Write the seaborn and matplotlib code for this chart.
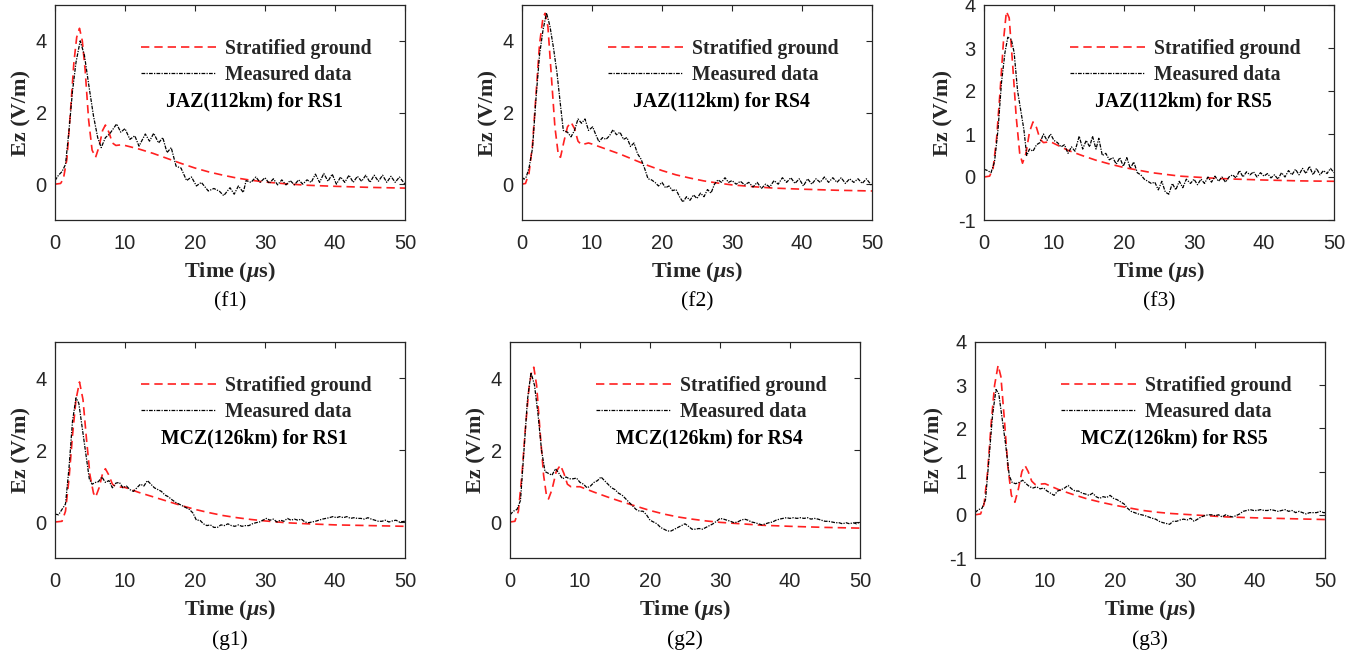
import numpy as np
import pandas as pd
import matplotlib
matplotlib.use("Agg")
import matplotlib.pyplot as plt
import seaborn as sns

# ---------------- data ----------------
# (f1) JAZ(112km) for RS1
T_F1_S = [0, 0.8, 1.2, 1.7, 2.2, 2.7, 3.1, 3.5, 3.9, 4.3, 4.8, 5.3, 5.8, 6.3, 6.8, 7.2, 7.7, 8.2, 8.7, 9.5, 10, 12, 14, 16, 18, 20, 22, 24, 26, 28, 30, 33, 36, 40, 45, 50]
Y_F1_S = [0, 0.02, 0.15, 0.7, 2.0, 3.4, 4.1, 4.35, 4.0, 3.2, 1.8, 0.95, 0.75, 1.05, 1.5, 1.65, 1.45, 1.15, 1.08, 1.1, 1.08, 0.98, 0.86, 0.72, 0.58, 0.45, 0.34, 0.25, 0.17, 0.11, 0.06, 0.01, -0.03, -0.06, -0.09, -0.11]
T_F1_M = [0, 0.5, 1.0, 1.5, 2.0, 2.5, 3.0, 3.6, 4.2, 4.8, 5.5, 6.1, 6.6, 7.2, 7.8, 8.8, 9.4, 10.0, 10.7, 11.4, 12.0, 12.9, 13.5, 14.1, 14.8, 15.4, 16.0, 16.6, 17.3, 18.0, 18.8, 19.5, 20.2, 20.9, 21.9, 22.7, 23.5, 24.1, 25.0, 25.6, 26.2, 26.9, 27.3, 28.0, 28.7, 29.3, 30.0, 30.6, 31.2, 31.8, 32.4, 33.0, 33.6, 34.2, 34.8, 35.4, 36.0, 36.6, 37.2, 37.8, 38.4, 39.0, 39.6, 40.2, 40.8, 41.4, 42.0, 42.6, 43.2, 43.8, 44.4, 45.0, 45.6, 46.2, 46.8, 47.4, 48.0, 48.6, 49.2, 50.0]
Y_F1_M = [0.1, 0.25, 0.35, 0.55, 1.5, 2.6, 3.4, 4.0, 3.6, 2.8, 1.9, 1.3, 1.02, 1.3, 1.4, 1.68, 1.45, 1.55, 1.25, 1.35, 1.06, 1.4, 1.2, 1.42, 1.15, 1.3, 0.88, 1.02, 0.5, 0.45, 0.1, 0.2, -0.05, 0.05, -0.19, -0.12, -0.2, -0.32, -0.1, -0.28, -0.05, -0.23, 0.1, 0.05, 0.2, 0.05, 0.18, 0.02, 0.15, -0.02, 0.12, -0.02, 0.1, -0.02, 0.12, 0.0, 0.12, 0.05, 0.28, 0.05, 0.3, 0.08, 0.28, 0.0, 0.2, 0.05, 0.25, 0.05, 0.22, 0.08, 0.25, 0.05, 0.25, 0.08, 0.25, 0.05, 0.22, 0.05, 0.2, 0.0]

# (f2) JAZ(112km) for RS4
T_F2_S = [0, 0.5, 1.0, 1.5, 2.0, 2.5, 3.0, 3.3, 3.7, 4.2, 4.7, 5.2, 5.5, 6.0, 6.5, 7.0, 7.5, 8.0, 8.5, 9.5, 10, 12, 14, 16, 18, 20, 22, 24, 26, 28, 30, 33, 36, 40, 45, 50]
Y_F2_S = [0, 0.02, 0.3, 1.1, 2.5, 3.9, 4.65, 4.77, 4.4, 3.0, 1.6, 0.8, 0.75, 1.2, 1.6, 1.73, 1.55, 1.2, 1.1, 1.15, 1.12, 0.98, 0.84, 0.68, 0.52, 0.38, 0.26, 0.17, 0.09, 0.03, -0.02, -0.07, -0.11, -0.14, -0.17, -0.19]
T_F2_M = [0, 0.3, 0.6, 1.0, 1.5, 2.0, 2.5, 3.0, 3.5, 4.0, 4.5, 5.0, 5.5, 5.9, 6.5, 7.0, 7.5, 8.0, 8.5, 9.0, 9.5, 10.1, 10.5, 11.0, 11.5, 12.0, 12.5, 13.0, 13.5, 14.0, 14.5, 15.0, 15.5, 16.0, 16.5, 17.0, 17.5, 18.0, 18.5, 19.0, 19.5, 20.0, 20.5, 21.0, 21.5, 22.0, 22.5, 23.0, 23.5, 24.0, 24.5, 25.0, 25.5, 26.0, 26.5, 27.0, 27.5, 28.0, 28.5, 29.0, 29.5, 30.0, 30.6, 31.2, 31.8, 32.4, 33.0, 33.6, 34.2, 34.8, 35.4, 36.0, 36.6, 37.2, 37.8, 38.4, 39.0, 39.6, 40.2, 40.8, 41.4, 42.0, 42.6, 43.2, 43.8, 44.4, 45.0, 45.6, 46.2, 46.8, 47.4, 48.0, 48.6, 49.2, 50.0]
Y_F2_M = [0.19, 0.14, 0.2, 0.45, 1.0, 2.4, 3.6, 4.3, 4.78, 4.4, 3.8, 3.1, 2.2, 1.5, 1.45, 1.32, 1.5, 1.82, 1.7, 1.82, 1.5, 1.6, 1.4, 1.18, 1.3, 1.25, 1.35, 1.52, 1.38, 1.45, 1.25, 1.3, 1.05, 1.15, 0.85, 0.7, 0.45, 0.15, 0.12, 0.05, -0.05, 0.05, -0.1, -0.05, -0.18, -0.15, -0.35, -0.5, -0.35, -0.45, -0.3, -0.4, -0.25, -0.35, -0.15, -0.25, 0.0, 0.12, 0.05, 0.18, 0.05, 0.1, 0.0, 0.08, -0.02, 0.05, -0.08, 0.05, -0.12, 0.0, -0.08, 0.1, 0.0, 0.18, 0.05, 0.18, 0.02, 0.15, -0.05, 0.15, 0.0, 0.15, 0.05, 0.2, 0.05, 0.18, 0.05, 0.18, 0.02, 0.15, 0.05, 0.15, 0.02, 0.15, -0.05]

# (f3) JAZ(112km) for RS5
T_F3_S = [0, 0.8, 1.3, 1.8, 2.3, 2.8, 3.2, 3.6, 4.1, 4.6, 5.1, 5.5, 6.0, 6.5, 7.0, 7.5, 8.0, 8.5, 9.5, 10, 12, 14, 16, 18, 20, 22, 24, 26, 28, 30, 33, 36, 40, 45, 50]
Y_F3_S = [0, 0.02, 0.2, 0.9, 2.0, 3.2, 3.85, 3.7, 2.6, 1.4, 0.55, 0.32, 0.55, 1.05, 1.28, 1.15, 0.88, 0.8, 0.82, 0.78, 0.62, 0.5, 0.39, 0.3, 0.22, 0.16, 0.1, 0.06, 0.02, 0.0, -0.03, -0.05, -0.07, -0.09, -0.1]
T_F3_M = [0, 0.5, 1.0, 1.5, 2.0, 2.5, 3.0, 3.4, 3.9, 4.3, 4.8, 5.3, 5.7, 6.1, 6.5, 7.0, 7.5, 8.0, 8.5, 9.0, 9.5, 10.0, 10.5, 11.0, 11.5, 12.0, 12.5, 13.0, 13.6, 14.1, 14.6, 15.1, 15.5, 16.0, 16.4, 16.9, 17.4, 17.9, 18.4, 18.9, 19.4, 19.9, 20.4, 20.9, 21.4, 21.9, 22.4, 22.9, 23.4, 23.9, 24.4, 24.9, 25.4, 25.9, 26.4, 26.9, 27.4, 27.9, 28.4, 28.9, 29.5, 30.0, 30.5, 31.0, 31.5, 32.0, 32.5, 33.0, 33.5, 34.0, 34.5, 35.0, 35.5, 36.0, 36.5, 37.0, 37.5, 38.0, 38.5, 39.0, 39.5, 40.0, 40.5, 41.0, 41.5, 42.0, 42.5, 43.0, 43.5, 44.0, 44.5, 45.0, 45.5, 46.0, 46.5, 47.0, 47.5, 48.0, 48.5, 49.0, 49.5, 50.0]
Y_F3_M = [0.18, 0.15, 0.1, 0.35, 1.1, 2.2, 2.9, 3.25, 3.2, 2.9, 2.0, 1.5, 1.1, 0.5, 0.65, 0.6, 0.75, 0.8, 1.0, 0.85, 1.0, 0.85, 0.8, 0.7, 0.75, 0.55, 0.7, 0.6, 0.95, 0.65, 0.85, 0.7, 0.95, 0.65, 0.9, 0.5, 0.55, 0.4, 0.45, 0.3, 0.45, 0.25, 0.45, 0.2, 0.35, 0.1, 0.05, -0.05, -0.1, -0.15, -0.12, -0.3, -0.1, -0.35, -0.4, -0.15, -0.3, -0.1, -0.25, -0.05, -0.15, -0.05, -0.18, -0.05, -0.15, 0.0, -0.12, 0.02, -0.1, 0.0, -0.12, 0.0, 0.05, -0.02, 0.15, 0.0, 0.12, 0.05, 0.12, 0.0, 0.1, 0.02, 0.08, -0.02, 0.05, -0.05, 0.1, 0.0, 0.15, 0.05, 0.18, 0.05, 0.2, 0.08, 0.25, 0.05, 0.2, 0.05, 0.15, 0.08, 0.2, 0.1]

# (g1) MCZ(126km) for RS1
T_G1_S = [0, 1.0, 1.5, 2.0, 2.5, 3.0, 3.5, 4.0, 4.5, 5.0, 5.5, 5.8, 6.3, 6.8, 7.2, 7.7, 8.2, 8.7, 10, 12, 14, 16, 18, 20, 22, 24, 26, 28, 30, 33, 36, 40, 45, 50]
Y_G1_S = [0, 0.02, 0.3, 1.2, 2.4, 3.4, 3.89, 3.4, 2.3, 1.3, 0.8, 0.69, 0.95, 1.35, 1.48, 1.3, 1.05, 0.98, 0.96, 0.82, 0.7, 0.58, 0.46, 0.35, 0.26, 0.18, 0.12, 0.07, 0.03, -0.02, -0.05, -0.08, -0.1, -0.12]
T_G1_M = [0, 0.5, 1.0, 1.5, 2.0, 2.5, 3.0, 3.4, 3.9, 4.4, 4.9, 5.3, 5.8, 6.2, 6.7, 7.2, 7.7, 8.2, 8.7, 9.2, 9.7, 10.2, 10.7, 11.2, 11.7, 12.2, 12.7, 13.2, 13.7, 14.2, 14.7, 15.2, 15.7, 16.2, 16.7, 17.2, 17.7, 18.2, 18.7, 19.2, 19.7, 20.2, 20.7, 21.2, 21.7, 22.2, 22.7, 23.2, 23.7, 24.2, 24.7, 25.2, 25.7, 26.2, 26.7, 27.2, 27.7, 28.2, 28.7, 29.2, 29.7, 30.2, 30.7, 31.2, 31.7, 32.2, 32.7, 33.2, 33.7, 34.2, 34.7, 35.2, 35.7, 36.2, 36.7, 37.2, 37.7, 38.2, 38.7, 39.2, 39.7, 40.2, 40.7, 41.2, 41.7, 42.2, 42.7, 43.2, 43.7, 44.2, 44.7, 45.2, 45.7, 46.2, 46.7, 47.2, 47.7, 48.2, 48.7, 49.2, 50.0]
Y_G1_M = [0.22, 0.2, 0.35, 0.5, 1.5, 2.8, 3.45, 3.3, 2.6, 1.9, 1.2, 1.05, 1.1, 1.12, 1.25, 1.1, 1.15, 0.95, 1.08, 1.1, 0.95, 1.0, 0.9, 0.85, 0.95, 1.05, 1.0, 1.15, 1.05, 0.95, 0.9, 0.85, 0.75, 0.7, 0.62, 0.55, 0.5, 0.45, 0.4, 0.35, 0.25, 0.05, 0.05, -0.05, -0.1, -0.08, -0.15, -0.15, -0.08, -0.1, -0.05, -0.1, -0.12, -0.08, -0.12, -0.1, -0.1, -0.05, -0.02, 0.0, 0.05, 0.1, 0.05, 0.08, 0.0, 0.05, 0.02, 0.1, 0.05, 0.08, 0.05, 0.08, 0.0, -0.02, 0.0, 0.02, 0.05, 0.08, 0.1, 0.12, 0.15, 0.12, 0.15, 0.12, 0.15, 0.1, 0.12, 0.1, 0.1, 0.08, 0.12, 0.08, 0.05, 0.02, 0.02, 0.05, 0.0, 0.03, 0.05, 0.0, 0.02]

# (g2) MCZ(126km) for RS4
T_G2_S = [0, 0.7, 1.2, 1.7, 2.2, 2.7, 3.1, 3.4, 3.8, 4.3, 4.8, 5.2, 5.5, 6.0, 6.6, 7.2, 7.7, 8.2, 8.7, 10, 12, 14, 16, 18, 20, 22, 24, 26, 28, 30, 33, 36, 40, 45, 50]
Y_G2_S = [0, 0.02, 0.3, 1.3, 2.6, 3.7, 4.2, 4.3, 3.8, 2.5, 1.3, 0.75, 0.64, 0.9, 1.4, 1.58, 1.35, 1.05, 0.98, 0.98, 0.83, 0.69, 0.56, 0.44, 0.32, 0.22, 0.14, 0.08, 0.03, -0.01, -0.05, -0.09, -0.12, -0.15, -0.17]
T_G2_M = [0, 0.5, 1.0, 1.5, 2.0, 2.5, 3.0, 3.5, 4.0, 4.5, 5.0, 5.5, 6.0, 6.5, 7.0, 7.5, 8.0, 8.5, 9.0, 9.5, 10.0, 10.5, 11.0, 11.5, 12.0, 12.5, 13.0, 13.5, 14.0, 14.5, 15.0, 15.5, 16.0, 16.5, 17.0, 17.5, 18.0, 18.5, 19.0, 19.5, 20.0, 20.5, 21.0, 21.5, 22.0, 22.5, 23.0, 23.5, 24.0, 24.5, 25.0, 25.5, 26.0, 26.5, 27.0, 27.5, 28.0, 28.5, 29.0, 29.5, 30.0, 30.5, 31.0, 31.5, 32.0, 32.5, 33.0, 33.5, 34.0, 34.5, 35.0, 35.5, 36.0, 36.5, 37.0, 37.5, 38.0, 38.5, 39.0, 39.5, 40.0, 40.5, 41.0, 41.5, 42.0, 42.5, 43.0, 43.5, 44.0, 44.5, 45.0, 45.5, 46.0, 46.5, 47.0, 47.5, 48.0, 48.5, 49.0, 49.5, 50.0]
Y_G2_M = [0.2, 0.3, 0.35, 0.6, 2.0, 3.4, 4.15, 3.8, 3.0, 2.0, 1.4, 1.35, 1.3, 1.48, 1.35, 1.2, 1.25, 1.2, 1.2, 1.22, 1.1, 1.05, 0.95, 1.0, 1.1, 1.15, 1.25, 1.15, 1.05, 0.95, 0.9, 0.8, 0.75, 0.65, 0.55, 0.45, 0.35, 0.3, 0.3, 0.2, 0.05, 0.0, -0.05, -0.15, -0.2, -0.25, -0.25, -0.2, -0.15, -0.1, -0.05, -0.12, -0.2, -0.2, -0.18, -0.2, -0.15, -0.1, -0.05, 0.02, 0.1, 0.08, 0.05, 0.02, -0.02, 0.0, 0.05, 0.08, 0.05, 0.0, -0.02, -0.05, -0.08, -0.05, -0.02, 0.0, 0.05, 0.08, 0.1, 0.12, 0.1, 0.12, 0.1, 0.12, 0.1, 0.12, 0.08, 0.1, 0.08, 0.05, 0.02, 0.02, 0.0, -0.02, -0.02, -0.05, -0.02, -0.05, -0.02, -0.05, 0.0]

# (g3) MCZ(126km) for RS5
T_G3_S = [0, 0.8, 1.3, 1.8, 2.3, 2.8, 3.3, 3.7, 4.2, 4.7, 5.2, 5.7, 6.2, 6.7, 7.15, 7.6, 8.1, 8.6, 10, 12, 14, 16, 18, 20, 22, 24, 26, 28, 30, 33, 36, 40, 45, 50]
Y_G3_S = [0, 0.02, 0.25, 1.0, 2.1, 3.0, 3.46, 3.2, 2.2, 1.1, 0.45, 0.29, 0.6, 1.0, 1.14, 1.0, 0.78, 0.7, 0.72, 0.58, 0.47, 0.37, 0.29, 0.22, 0.16, 0.1, 0.06, 0.03, 0.01, -0.02, -0.05, -0.07, -0.09, -0.11]
T_G3_M = [0, 0.5, 1.0, 1.5, 2.0, 2.5, 3.0, 3.4, 3.9, 4.4, 4.9, 5.3, 5.8, 6.3, 6.8, 7.3, 7.8, 8.3, 8.8, 9.3, 9.8, 10.3, 10.8, 11.3, 11.8, 12.3, 12.8, 13.3, 13.8, 14.3, 14.8, 15.3, 15.8, 16.3, 16.8, 17.3, 17.8, 18.3, 18.8, 19.3, 19.8, 20.3, 20.8, 21.3, 21.8, 22.3, 22.8, 23.3, 23.8, 24.3, 24.8, 25.3, 25.8, 26.3, 26.8, 27.3, 27.8, 28.3, 28.8, 29.3, 29.8, 30.3, 30.8, 31.3, 31.8, 32.3, 32.8, 33.3, 33.8, 34.3, 34.8, 35.3, 35.8, 36.3, 36.8, 37.3, 37.8, 38.3, 38.8, 39.3, 39.8, 40.3, 40.8, 41.3, 41.8, 42.3, 42.8, 43.3, 43.8, 44.3, 44.8, 45.3, 45.8, 46.3, 46.8, 47.3, 47.8, 48.3, 48.8, 49.3, 49.8, 50.0]
Y_G3_M = [0.05, 0.12, 0.15, 0.35, 1.3, 2.3, 2.9, 2.8, 2.2, 1.6, 0.9, 0.75, 0.72, 0.75, 0.8, 0.72, 0.65, 0.62, 0.65, 0.6, 0.62, 0.55, 0.5, 0.45, 0.55, 0.58, 0.62, 0.68, 0.6, 0.55, 0.55, 0.5, 0.48, 0.45, 0.5, 0.42, 0.38, 0.42, 0.4, 0.45, 0.38, 0.35, 0.3, 0.25, 0.15, 0.08, 0.05, 0.02, 0.0, -0.02, -0.05, -0.08, -0.1, -0.15, -0.18, -0.2, -0.22, -0.15, -0.15, -0.12, -0.1, -0.12, -0.08, -0.15, -0.1, -0.05, -0.02, 0.0, 0.0, -0.02, 0.0, -0.05, 0.0, -0.03, -0.05, -0.02, 0.02, 0.08, 0.1, 0.12, 0.1, 0.1, 0.12, 0.1, 0.1, 0.12, 0.1, 0.08, 0.1, 0.12, 0.08, 0.1, 0.05, 0.08, 0.05, 0.02, 0.05, 0.05, 0.05, 0.08, 0.05, 0.05]

SERIES_NAMES = ["Stratified ground", "Measured data"]
TITLES = ["JAZ(112km) for RS1", "JAZ(112km) for RS4", "JAZ(112km) for RS5",
          "MCZ(126km) for RS1", "MCZ(126km) for RS4", "MCZ(126km) for RS5"]
SUBLABELS = ["(f1)", "(f2)", "(f3)", "(g1)", "(g2)", "(g3)"]
YLIMS = [(-1, 5), (-1, 5), (-1, 4), (-1, 5), (-1, 5), (-1, 4)]
YTICKS = [[0, 2, 4], [0, 2, 4], [-1, 0, 1, 2, 3, 4], [0, 2, 4], [0, 2, 4], [-1, 0, 1, 2, 3, 4]]
XTICKS = [0, 10, 20, 30, 40, 50]

PANELS = [
    (T_F1_S, Y_F1_S, T_F1_M, Y_F1_M),
    (T_F2_S, Y_F2_S, T_F2_M, Y_F2_M),
    (T_F3_S, Y_F3_S, T_F3_M, Y_F3_M),
    (T_G1_S, Y_G1_S, T_G1_M, Y_G1_M),
    (T_G2_S, Y_G2_S, T_G2_M, Y_G2_M),
    (T_G3_S, Y_G3_S, T_G3_M, Y_G3_M),
]

# ---------------- style ----------------
sns.set_theme(style="white")
plt.rcParams["font.family"] = ["Liberation Sans", "DejaVu Sans"]
plt.rcParams["axes.unicode_minus"] = False
plt.rcParams["mathtext.fontset"] = "custom"
plt.rcParams["mathtext.it"] = "Liberation Serif:italic:bold"
plt.rcParams["mathtext.rm"] = "Liberation Serif:bold"
plt.rcParams["mathtext.bf"] = "Liberation Serif:bold"

W, H = 1363, 655
fig = plt.figure(figsize=(W / 100, H / 100), dpi=100)

# axes boxes in pixels: left, top, right, bottom
BOXES = [(55, 5, 405, 220), (522, 5, 872, 220), (984, 5, 1334, 220),
         (55, 342, 405, 558), (510, 342, 860, 558), (975, 342, 1325, 558)]

serif = ["Liberation Serif", "DejaVu Serif"]
dark = "#262626"

for i, (ts, ys, tm, ym) in enumerate(PANELS):
    l, t, r, b = BOXES[i]
    ax = fig.add_axes([l / W, 1 - b / H, (r - l) / W, (b - t) / H])
    df_s = pd.DataFrame({"t": ts, "v": ys})
    df_m = pd.DataFrame({"t": tm, "v": ym})
    sns.lineplot(data=df_s, x="t", y="v", ax=ax, color="#ff2020", lw=1.2,
                 sort=False, estimator=None, label=SERIES_NAMES[0])
    sns.lineplot(data=df_m, x="t", y="v", ax=ax, color="black", lw=0.9,
                 sort=False, estimator=None, label=SERIES_NAMES[1])
    ax.lines[0].set_linestyle((0, (5, 3)))
    ax.lines[1].set_linestyle((0, (3, 1, 1, 1)))
    ax.set_xlim(0, 50)
    ax.set_ylim(*YLIMS[i])
    ax.set_xticks(XTICKS)
    ax.set_yticks(YTICKS[i])
    ax.tick_params(direction="in", top=True, right=True, length=4, width=0.8,
                   labelsize=14.5, colors=dark)
    ax.tick_params(axis="x", pad=10)
    ax.tick_params(axis="y", pad=6)
    for sp in ax.spines.values():
        sp.set_color(dark)
        sp.set_linewidth(0.9)
    ax.set_xlabel(r"Time ($\mu$s)", fontsize=16, fontweight="bold",
                  family=serif, color=dark, labelpad=5)
    ax.set_ylabel("Ez (V/m)", fontsize=16, fontweight="bold",
                  family=serif, color=dark, labelpad=3)
    ax.legend(loc="upper left", bbox_to_anchor=(0.195, 0.925), frameon=False,
              handlelength=3.8, handletextpad=0.45, labelspacing=0.3,
              prop={"family": serif, "weight": "bold", "size": 14.2})
    ax.text(0.57, 0.553, TITLES[i], transform=ax.transAxes, ha="center", va="center",
            fontsize=14.2, fontweight="bold", family=serif, color="black")
    cx = (l + r) / 2
    ly = 302 if i < 3 else 640
    fig.text(cx / W, 1 - ly / H, SUBLABELS[i], ha="center", va="center",
             fontsize=15.5, family=serif, color="black")

fig.savefig("out.png", dpi=100)
